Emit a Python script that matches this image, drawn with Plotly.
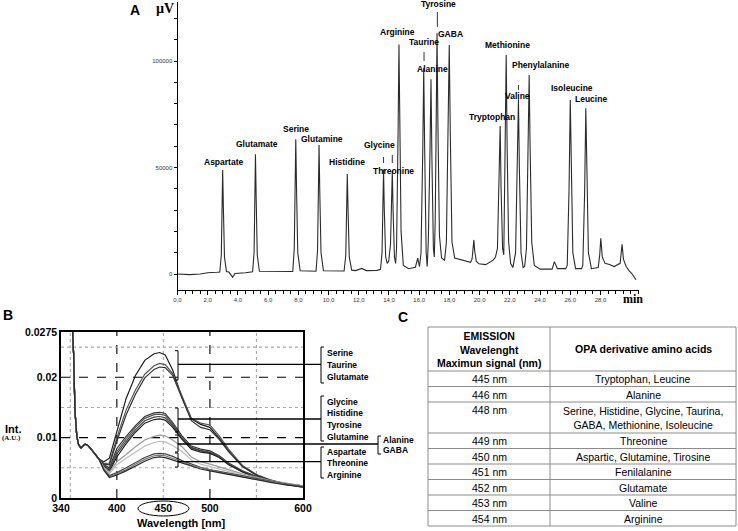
import plotly.graph_objects as go

W, H = 738, 531
def fx(px): return px / W
def fy(py): return 1 - py / H

SANS = "Liberation Sans"
SERIF = "Liberation Serif"

# ---------------- Panel A: chromatogram (time in min, signal in µV) ----------------
chrom_time = (
    [0.0, 0.8, 1.5, 2.0, 2.6]
    + [2.80, 2.90, 2.95, 2.99, 3.04, 3.11, 3.24, 3.4, 3.65, 3.8, 4.5]
    + [4.97, 5.07, 5.12, 5.16, 5.21, 5.28, 5.42, 6.5, 7.4]
    + [7.63, 7.73, 7.79, 7.83, 7.88, 7.96, 8.12, 8.9]
    + [9.17, 9.27, 9.33, 9.37, 9.42, 9.50, 9.66, 10.6]
    + [11.03, 11.14, 11.20, 11.24, 11.29, 11.37, 11.53, 11.8, 12.2, 12.5, 13.2]
    + [13.44, 13.54, 13.60, 13.64, 13.69, 13.78, 13.88]
    + [13.98, 14.10, 14.18, 14.22, 14.27, 14.36, 14.44]
    + [14.50, 14.60, 14.66, 14.72, 14.80, 14.95, 15.3, 15.75, 15.9, 16.02]
    + [16.12, 16.24, 16.30, 16.36, 16.46, 16.53]
    + [16.60, 16.72, 16.78, 16.84, 16.94, 17.00]
    + [17.06, 17.13, 17.18, 17.24, 17.34, 17.48, 17.68]
    + [17.80, 17.92, 17.99, 18.06, 18.17, 18.35, 18.8, 19.4]
    + [19.50, 19.58, 19.62, 19.67, 19.78, 19.95, 20.4, 20.9, 21.05]
    + [21.18, 21.30, 21.36, 21.42, 21.52, 21.60]
    + [21.64, 21.71, 21.76, 21.82, 21.92, 22.05, 22.2]
    + [22.38, 22.50, 22.57, 22.63, 22.74, 22.88, 22.98]
    + [23.10, 23.21, 23.28, 23.34, 23.45, 23.62, 24.0, 24.8, 24.95, 25.15, 25.7]
    + [25.80, 25.92, 26.00, 26.06, 26.17, 26.35, 26.75]
    + [26.83, 26.95, 27.03, 27.09, 27.20, 27.40]
    + [27.85, 27.95, 28.02, 28.12, 28.3, 28.6, 28.9, 29.3, 29.38, 29.43, 29.52, 29.7, 29.9, 30.1, 30.35]
)
chrom_signal = (
    [0, -300, 0, 600, 800]
    + [900, 9000, 33000, 48800, 30000, 8000, 1200, 900, -1500, 200, 600]
    + [1000, 10000, 38000, 56200, 35000, 9000, 1300, 1200, 1000]
    + [1200, 12000, 43000, 63200, 40000, 10000, 1500, 1100]
    + [1300, 11000, 41000, 60600, 38000, 10000, 1500, 1400]
    + [1400, 9000, 32000, 46900, 30000, 8000, 1800, 1600, 2600, 1600, 1700]
    + [2200, 10000, 33000, 49000, 30000, 8000, 5000]
    + [6000, 14000, 34000, 48500, 30000, 8000, 5000]
    + [12000, 65000, 107800, 70000, 20000, 4000, 2500, 3200, 7500, 3500]
    + [10000, 60000, 96700, 60000, 10000, 3500]
    + [15000, 60000, 91400, 55000, 12000, 8000]
    + [25000, 75000, 113000, 70000, 18000, 7500, 6500]
    + [15000, 65000, 107500, 65000, 15000, 7500, 6500, 5500]
    + [7000, 13000, 16000, 11000, 6000, 4800, 4400, 6500, 8000]
    + [12000, 45000, 69500, 40000, 12000, 9000]
    + [30000, 70000, 102800, 60000, 15000, 5000, 3000]
    + [10000, 50000, 82000, 50000, 10000, 3000, 3500]
    + [12000, 55000, 93400, 60000, 15000, 4000, 2300, 2300, 5800, 2500, 2500]
    + [4000, 40000, 81700, 50000, 10000, 2500, 2500]
    + [4000, 38000, 77800, 48000, 10000, 2500]
    + [3000, 9000, 16800, 8000, 5000, 4500, 3500, 5000, 10000, 13900, 7000, 3500, 1500, 0, -2700]
)
time_ticks = [0, 2, 4, 6, 8, 10, 12, 14, 16, 18, 20, 22, 24, 26, 28]
time_tick_text = ["0,0", "2,0", "4,0", "6,0", "8,0", "10,0", "12,0", "14,0", "16,0",
                  "18,0", "20,0", "22,0", "24,0", "26,0", "28,0"]
signal_ticks = [0, 50000, 100000]
signal_tick_text = ["0", "50000", "100000"]

# peak labels: name, label anchor (time, signal)
peak_labels = [
    ("Aspartate", 3.06, 52400), ("Glutamate", 5.27, 61200), ("Serine", 7.85, 68100),
    ("Glutamine", 9.59, 63200), ("Histidine", 11.22, 52400), ("Glycine", 13.36, 60400),
    ("Threonine", 14.33, 48400), ("Arginine", 14.53, 113500), ("Taurine", 16.32, 109100),
    ("Alanine", 16.85, 96200), ("Tyrosine", 17.31, 126800), ("GABA", 18.1, 112700),
    ("Tryptophan", 20.85, 73900), ("Methionine", 21.83, 107500), ("Phenylalanine", 24.0, 98100),
    ("Valine", 22.5, 83400), ("Isoleucine", 26.12, 87200), ("Leucine", 27.36, 82200),
]
# small marker ticks above peaks: time, signal from, signal to
peak_marks = [(13.64, 52100, 54900), (14.22, 52100, 55900), (16.32, 100000, 104200),
              (17.2, 116000, 123000), (22.57, 86400, 88700)]

# ---------------- Panel B: emission spectra ----------------
spec_head_wl = [352, 353.5, 355, 357, 359, 361.5, 364, 366, 369, 372, 376, 381]
spec_head_val = [0.0290, 0.0240, 0.0145, 0.0102, 0.0088, 0.0083, 0.0087, 0.0089, 0.0087, 0.0082, 0.0074, 0.0064]
spec_wl = [386, 392, 400, 410, 420, 430, 440, 446, 452, 460, 470, 480, 490, 500, 510, 520, 535, 550, 565, 580, 600]
spectra = {
    "Serine":    [0.0060, 0.0066, 0.0112, 0.0165, 0.0203, 0.0228, 0.0239, 0.0241, 0.0237, 0.0212, 0.0166, 0.0131, 0.0122, 0.0117, 0.0099, 0.0078, 0.0052, 0.0038, 0.0029, 0.0024, 0.0019],
    "Taurine":   [0.0057, 0.0058, 0.0100, 0.0146, 0.0179, 0.0205, 0.0219, 0.0223, 0.0221, 0.0206, 0.0168, 0.0132, 0.0124, 0.0121, 0.0103, 0.0081, 0.0054, 0.0039, 0.0030, 0.0024, 0.0019],
    "Glutamate": [0.0056, 0.0055, 0.0094, 0.0138, 0.0172, 0.0199, 0.0213, 0.0217, 0.0216, 0.0203, 0.0164, 0.0128, 0.0117, 0.0113, 0.0097, 0.0077, 0.0052, 0.0038, 0.0029, 0.0023, 0.0018],
    "Glycine":   [0.0055, 0.0050, 0.0082, 0.0102, 0.0120, 0.0135, 0.0141, 0.0142, 0.0140, 0.0125, 0.0103, 0.0086, 0.0081, 0.0078, 0.0070, 0.0058, 0.0045, 0.0036, 0.0029, 0.0024, 0.0020],
    "Histidine": [0.0054, 0.0048, 0.0077, 0.0098, 0.0117, 0.0132, 0.0138, 0.0139, 0.0137, 0.0122, 0.0100, 0.0084, 0.0079, 0.0076, 0.0069, 0.0057, 0.0044, 0.0035, 0.0029, 0.0024, 0.0020],
    "Tyrosine":  [0.0053, 0.0046, 0.0073, 0.0094, 0.0113, 0.0128, 0.0134, 0.0135, 0.0133, 0.0120, 0.0099, 0.0083, 0.0078, 0.0075, 0.0068, 0.0056, 0.0043, 0.0035, 0.0028, 0.0023, 0.0019],
    "Glutamine": [0.0052, 0.0044, 0.0068, 0.0090, 0.0109, 0.0124, 0.0130, 0.0131, 0.0129, 0.0117, 0.0097, 0.0081, 0.0076, 0.0074, 0.0067, 0.0055, 0.0043, 0.0034, 0.0028, 0.0023, 0.0019],
    "Alanine":   [0.0051, 0.0043, 0.0060, 0.0072, 0.0085, 0.0096, 0.0102, 0.0104, 0.0103, 0.0096, 0.0085, 0.0068, 0.0060, 0.0056, 0.0052, 0.0047, 0.0040, 0.0034, 0.0029, 0.0025, 0.0020],
    "GABA":      [0.0050, 0.0040, 0.0055, 0.0066, 0.0076, 0.0086, 0.0092, 0.0094, 0.0093, 0.0087, 0.0077, 0.0063, 0.0056, 0.0052, 0.0049, 0.0045, 0.0038, 0.0032, 0.0028, 0.0024, 0.0019],
    "Aspartate": [0.0048, 0.0037, 0.0042, 0.0050, 0.0059, 0.0067, 0.0073, 0.0074, 0.0073, 0.0069, 0.0062, 0.0056, 0.0051, 0.0047, 0.0044, 0.0041, 0.0036, 0.0032, 0.0028, 0.0024, 0.0019],
    "Threonine": [0.0047, 0.0035, 0.0040, 0.0047, 0.0056, 0.0064, 0.0070, 0.0071, 0.0070, 0.0066, 0.0060, 0.0054, 0.0050, 0.0046, 0.0043, 0.0040, 0.0035, 0.0031, 0.0027, 0.0023, 0.0019],
    "Arginine":  [0.0046, 0.0034, 0.0038, 0.0045, 0.0053, 0.0061, 0.0067, 0.0068, 0.0067, 0.0063, 0.0057, 0.0052, 0.0048, 0.0045, 0.0042, 0.0039, 0.0034, 0.0030, 0.0026, 0.0022, 0.0018],
}
spec_colors = {
    "Serine": "#1e1e1e", "Taurine": "#555555", "Glutamate": "#333333",
    "Glycine": "#333333", "Histidine": "#555555", "Tyrosine": "#444444", "Glutamine": "#222222",
    "Alanine": "#9a9a9a", "GABA": "#bdbdbd",
    "Aspartate": "#444444", "Threonine": "#777777", "Arginine": "#2a2a2a",
}
wl_ticks = [340, 400, 450, 500, 600]
int_ticks = [0, 0.01, 0.02, 0.0275]
int_tick_text = ["0", "0.01", "0.02", "0.0275"]
bracket_groups = [["Serine", "Taurine", "Glutamate"],
                  ["Glycine", "Histidine", "Tyrosine", "Glutamine"],
                  ["Alanine", "GABA"],
                  ["Aspartate", "Threonine", "Arginine"]]

# ---------------- Panel C: table ----------------
table_header = ["EMISSION<br>Wavelenght<br>Maximun signal (nm)", "OPA derivative amino acids"]
table_wavelength = ["445 nm", "446 nm", "448 nm", "449 nm", "450 nm", "451 nm", "452 nm", "453 nm", "454 nm"]
table_amino = ["Tryptophan, Leucine", "Alanine",
               "Serine, Histidine, Glycine, Taurina,<br>GABA, Methionine, Isoleucine",
               "Threonine", "Aspartic, Glutamine, Tirosine", "Fenilalanine", "Glutamate",
               "Valine", "Arginine"]

fig = go.Figure()

# A trace
fig.add_trace(go.Scatter(x=chrom_time, y=chrom_signal, mode="lines",
                         line=dict(color="#2b2b2b", width=1.1), xaxis="x", yaxis="y",
                         showlegend=False, hoverinfo="skip"))

# B traces
for name, vals in spectra.items():
    fig.add_trace(go.Scatter(x=spec_head_wl + spec_wl, y=spec_head_val + vals, mode="lines",
                             name=name, line=dict(color=spec_colors[name], width=1.2),
                             xaxis="x2", yaxis="y2", showlegend=False))

annotations = []
shapes = []

def text(px, py, s, size, family=SANS, bold=True, xanchor="center", color="black"):
    annotations.append(dict(x=fx(px), y=fy(py), xref="paper", yref="paper", text=s,
                            showarrow=False, xanchor=xanchor, yanchor="middle",
                            font=dict(family=family, size=size, color=color,
                                      weight="bold" if bold else "normal")))

def seg(x0, y0, x1, y1, width=1, color="black"):
    shapes.append(dict(type="line", xref="paper", yref="paper", x0=fx(x0), y0=fy(y0),
                       x1=fx(x1), y1=fy(y1), line=dict(color=color, width=width)))

# Panel A labels
for name, t, s in peak_labels:
    annotations.append(dict(x=t, y=s, xref="x", yref="y", text=name, showarrow=False,
                            font=dict(family=SANS, size=8.5, color="black", weight="bold")))
for t, s0, s1 in peak_marks:
    shapes.append(dict(type="line", xref="x", yref="y", x0=t, x1=t, y0=s0, y1=s1,
                       line=dict(color="#333333", width=1)))
text(135, 10, "A", 14)
text(165, 8, "µV", 14, family=SERIF)
text(633, 299, "min", 12, family=SERIF)

# Panel B grid
for wl, major in [(350, False), (400, True), (450, False), (500, True), (550, False)]:
    shapes.append(dict(type="line", xref="x2", yref="y2 domain", x0=wl, x1=wl, y0=0, y1=1,
                       layer="below",
                       line=dict(color="black" if major else "#a8a8a8", width=1.1,
                                 dash="dash" if major else "dot")))
for v, major in [(0.005, False), (0.01, True), (0.015, False), (0.02, True), (0.025, False)]:
    shapes.append(dict(type="line", xref="x2 domain", yref="y2", x0=0, x1=1, y0=v, y1=v,
                       layer="below",
                       line=dict(color="black" if major else "#a8a8a8", width=1.1,
                                 dash="dash" if major else "dot")))

# Panel B brackets and leader lines
curve_brackets = [(350.7, 380), (408, 432), (435, 452), (453, 467)]
leader_y = [364.3, 419, 444, 461.7]
leader_end = [321, 321, 378, 321]
label_brackets = [(321, 347, 383), (321, 396, 441), (378, 436, 454), (321, 447, 478)]
label_rows = [[353.3, 365, 376.7], [401.7, 413.3, 425, 436.7], [440, 449.5], [451.7, 463.3, 474.8]]
for (ya, yb), ly, le, (bx, ba, bb), rows, names in zip(curve_brackets, leader_y, leader_end,
                                                      label_brackets, label_rows, bracket_groups):
    seg(178, ya, 178, yb)
    seg(175, ya, 178, ya)
    seg(175, yb, 178, yb)
    seg(178, ly, le, ly, width=1.3)
    seg(bx, ba, bx, bb)
    seg(bx, ba, bx + 3, ba)
    seg(bx, bb, bx + 3, bb)
    for name, ry in zip(names, rows):
        text(bx + 3.5, ry, name, 8.5, xanchor="left")

text(7.5, 315, "B", 14)
text(13.5, 429, "Int.", 11)
text(11.5, 437.5, "(A.U.)", 7, family=SERIF)
text(181.5, 522.5, "Wavelength [nm]", 11)
shapes.append(dict(type="circle", xref="paper", yref="paper", x0=fx(138), x1=fx(189),
                   y0=fy(516), y1=fy(501), line=dict(color="black", width=1)))

# Panel C: table drawn with lines and text
text(403, 317, "C", 14)
col_x = [428, 550, 736]
row_unit = 15.5
header_top, header_bottom = 327, 371
grid_col = "#8c8c8c"
seg(col_x[0], header_top, col_x[2], header_top, color=grid_col)
seg(col_x[0], header_bottom, col_x[2], header_bottom, color=grid_col)
text((col_x[0] + col_x[1]) / 2, (header_top + header_bottom) / 2, "<b>" + table_header[0] + "</b>", 10.5, bold=True)
text((col_x[1] + col_x[2]) / 2, (header_top + header_bottom) / 2, "<b>" + table_header[1] + "</b>", 10.5, bold=True)
y = header_bottom
for wlabel, amino in zip(table_wavelength, table_amino):
    nlines = amino.count("<br>") + 1
    h = row_unit * nlines
    text((col_x[0] + col_x[1]) / 2, y + row_unit / 2 + 0.5, wlabel, 10.5, bold=False)
    text((col_x[1] + col_x[2]) / 2, y + h / 2 + 0.5, amino, 10.5, bold=False)
    y += h
    seg(col_x[0], y, col_x[2], y, color=grid_col)
for cx in col_x:
    seg(cx, header_top, cx, y, color=grid_col)

fig.update_layout(
    width=W, height=H, margin=dict(l=0, r=0, t=0, b=0, autoexpand=False),
    paper_bgcolor="white", plot_bgcolor="white",
    annotations=annotations, shapes=shapes,
    xaxis=dict(domain=[fx(177.5), fx(639)], range=[0, 30.55], anchor="y", automargin=False,
               showline=True, linecolor="black", linewidth=1, showgrid=False, zeroline=False,
               tickmode="array", tickvals=time_ticks, ticktext=time_tick_text,
               ticks="outside", ticklen=4, tickcolor="black", tickwidth=1,
               tickfont=dict(family=SANS, size=6, color="#333333"),
               minor=dict(dtick=0.5, tick0=0, ticks="outside", ticklen=2.5, tickcolor="black",
                          showgrid=False)),
    yaxis=dict(domain=[fy(290), fy(2)], range=[-7512, 127700], anchor="x", automargin=False,
               showline=True, linecolor="black", linewidth=1, showgrid=False, zeroline=False,
               tickmode="array", tickvals=signal_ticks, ticktext=signal_tick_text,
               ticks="outside", ticklen=3, tickcolor="black",
               tickfont=dict(family=SANS, size=6, color="#333333"),
               minor=dict(dtick=10000, tick0=0, ticks="outside", ticklen=3, tickcolor="black",
                          showgrid=False)),
    xaxis2=dict(domain=[fx(61), fx(303)], range=[340, 600], anchor="y2", automargin=False,
                showline=True, mirror=True, linecolor="black", linewidth=1.5,
                showgrid=False, zeroline=False, tickmode="array", tickvals=wl_ticks,
                ticks="", ticklabelstandoff=0,
                tickfont=dict(family=SANS, size=10.5, color="black", weight="bold")),
    yaxis2=dict(domain=[fy(498), fy(332)], range=[0, 0.0275], anchor="x2", automargin=False,
                showline=True, mirror=True, linecolor="black", linewidth=1.5,
                showgrid=False, zeroline=False, tickmode="array", tickvals=int_ticks,
                ticktext=int_tick_text, ticks="",
                tickfont=dict(family=SANS, size=10.5, color="black", weight="bold")),
)

fig.write_html("out.html", config={"displayModeBar": False},
               post_script="document.body.style.margin='0';document.body.style.overflow='hidden';")
